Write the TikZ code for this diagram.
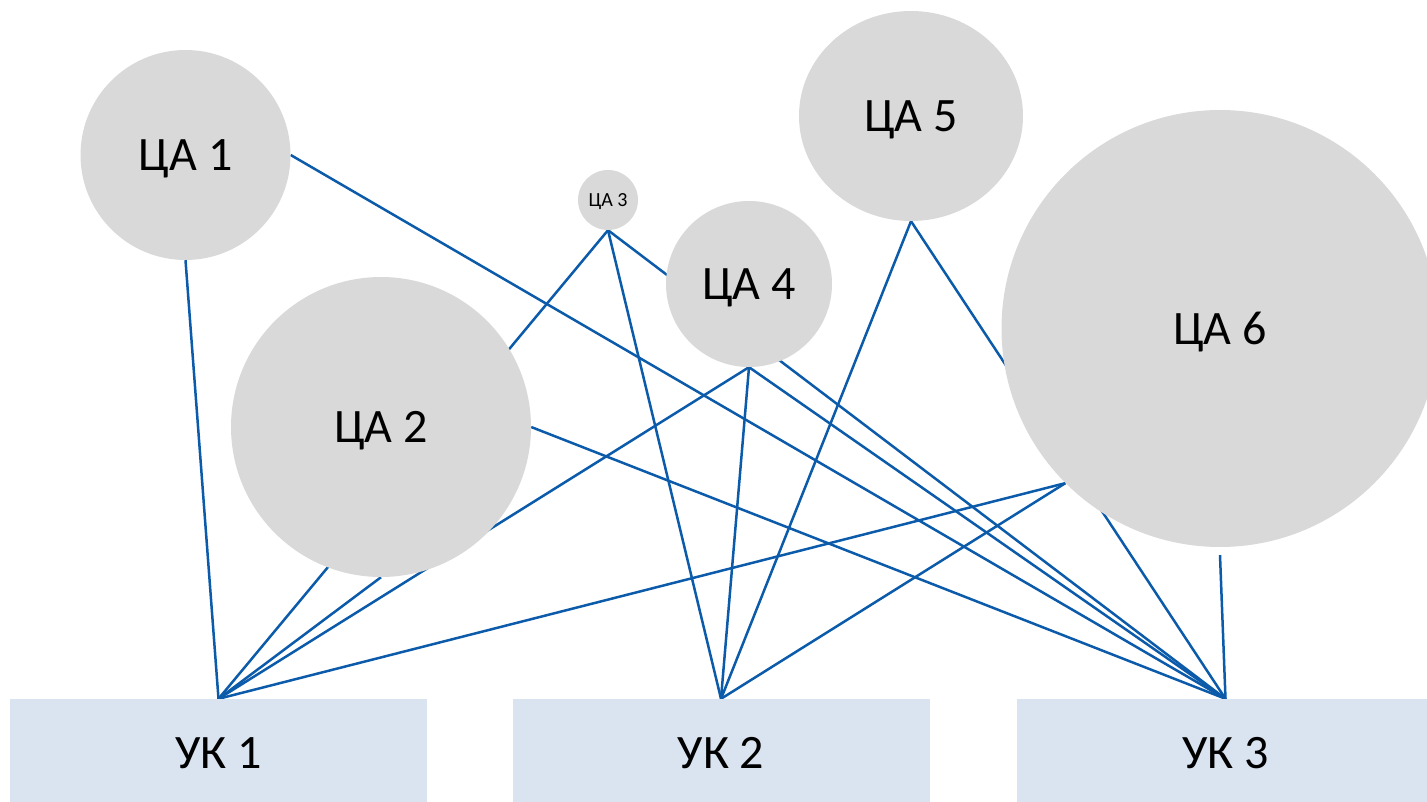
\documentclass[tikz,border=0pt]{standalone}
\usepackage{fontspec}
\setmainfont{Carlito}
\usetikzlibrary{shapes.geometric,backgrounds}
\definecolor{cagray}{HTML}{D9D9D9}
\definecolor{ukblue}{HTML}{DAE3F0}
\definecolor{linkblue}{HTML}{0B5BAA}
\begin{document}
\begin{tikzpicture}[x=1pt,y=-1pt,
  ca/.style={circle,fill=cagray,inner sep=0pt,text depth=0pt,font=\fontsize{48}{58}\selectfont},
  uk/.style={rectangle,fill=ukblue,inner sep=0pt,minimum width=417pt,minimum height=108pt,font=\fontsize{48}{58}\selectfont},
  link/.style={draw=linkblue,line width=2.5pt}]
\path[use as bounding box,clip] (0,0) rectangle (1427,802);
\node[ca,minimum size=210pt] (c1) at (185.5,155) {ЦА 1};
\node[ca,minimum size=300pt] (c2) at (381,427) {ЦА 2};
\node[ca,minimum size=60pt,font=\fontsize{20}{24}\selectfont] (c3) at (608,200) {ЦА 3};
\node[ca,minimum size=166pt] (c4) at (749,284) {ЦА 4};
\node[ca,ellipse,minimum width=224pt,minimum height=210pt] (c5) at (911,116) {ЦА 5};
\node[ca,minimum size=437pt] (c6) at (1220,328.5) {ЦА 6};
\node[uk] (u1) at (218.5,753) {УК 1};
\node[uk] (u2) at (721,753) {УК 2};
\node[uk] (u3) at (1225.5,753) {УК 3};
\coordinate (c6b) at ([yshift=-8pt]c6.south);
\begin{scope}[on background layer]
\draw[link] (c1.south) -- (u1.north);
\draw[link] (c1.east) -- (u3.north);
\draw[link] (c2.south) -- (u1.north);
\draw[link] (c2.east) -- (u3.north);
\draw[link] (c3.south) -- (u1.north);
\draw[link] (c3.south) -- (u2.north);
\draw[link] (c3.south) -- (u3.north);
\draw[link] (c4.south) -- (u1.north);
\draw[link] (c4.south) -- (u2.north);
\draw[link] (c4.south) -- (u3.north);
\draw[link] (c5.south) -- (u2.north);
\draw[link] (c5.south) -- (u3.north);
\draw[link] (c6.225) -- (u1.north);
\draw[link] (c6.225) -- (u2.north);
\draw[link] (c6b) -- (u3.north);
\end{scope}
\end{tikzpicture}
\end{document}
